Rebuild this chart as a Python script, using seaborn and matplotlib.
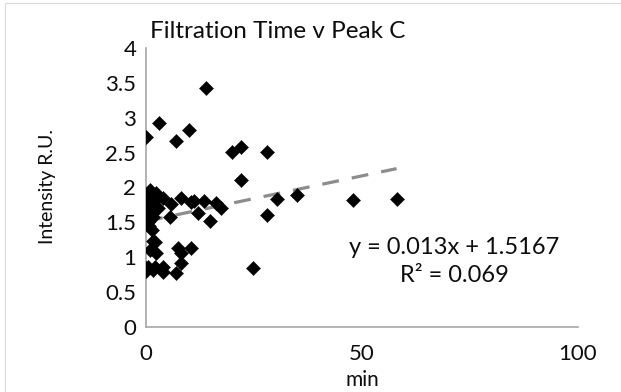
import matplotlib
matplotlib.use("Agg")
import matplotlib.pyplot as plt
import seaborn as sns
import pandas as pd
import numpy as np
from matplotlib.patches import Rectangle

# Data
minutes = [13.9, 3.0, 10.0, 0.0, 6.9, 19.9, 22.0, 28.0, 22.0, 30.3, 35.0, 48.0, 58.0, 28.0, 24.8,
           1.0, 2.3, 3.9, 0.5, 2.8, 0.0, 1.6, 5.5, 8.1, 10.4, 5.8, 11.1, 13.4, 16.2, 17.4,
           12.1, 14.8, 1.4, 0.3, 0.8, 0.2, 1.8, 0.5, 0.6, 1.2,
           1.6, 2.1, 0.9, 2.3, 7.4, 8.1, 10.4, 0.0, 0.5, 2.1, 3.9, 4.0, 8.1, 7.0, 0.0, 1.6]
intensity = [3.42, 2.93, 2.83, 2.73, 2.67, 2.51, 2.58, 2.51, 2.11, 1.83, 1.89, 1.82, 1.84, 1.61, 0.85,
             1.96, 1.92, 1.85, 1.72, 1.71, 1.56, 1.58, 1.58, 1.85, 1.79, 1.76, 1.81, 1.81, 1.78, 1.70,
             1.63, 1.52, 1.39, 1.90, 1.85, 1.65, 1.80, 1.50, 1.45, 1.62,
             1.24, 1.22, 1.10, 1.06, 1.13, 1.06, 1.13, 0.85, 0.86, 0.86, 0.86, 0.79, 0.92, 0.78, 0.80, 0.82]
slope, intercept = 0.013, 1.5167
x_ticks = [0, 50, 100]
y_ticks = [0, 0.5, 1, 1.5, 2, 2.5, 3, 3.5, 4]
y_tick_labels = ["0", "0.5", "1", "1.5", "2", "2.5", "3", "3.5", "4"]

df = pd.DataFrame({"min": minutes, "Intensity R.U.": intensity})

sns.set_style("white")
plt.rcParams['font.family'] = ['Lato', 'DejaVu Sans']

fig = plt.figure(figsize=(6.21, 3.92), dpi=100)
ax = fig.add_axes([146/621, 1 - 327/392, (578-146)/621, (327-48)/392])

# outer chart border
fig.patches.append(Rectangle((5/621, -0.05), 1.1, 1 - 3/392 + 0.05, transform=fig.transFigure,
                             fill=False, edgecolor="#d9d9d9", linewidth=0.8))

# trend line
tx = np.array([0.0, max(minutes)])
ty = slope * tx + intercept
sns.lineplot(x=tx, y=ty, ax=ax, color="#8c8c8c", linewidth=2.3, zorder=1)
ax.lines[-1].set_dashes([5.3, 4.1])

sns.scatterplot(data=df, x="min", y="Intensity R.U.", ax=ax, marker="D", s=52,
                color="black", edgecolor="black", linewidth=0.3, zorder=3)

ax.set_xlim(0, 100)
ax.set_ylim(0, 4)
ax.set_xticks(x_ticks)
ax.set_yticks(y_ticks)
ax.set_yticklabels(y_tick_labels)
ax.tick_params(axis="both", length=0, labelsize=16, colors="#0d0d0d")
ax.tick_params(axis="x", pad=12)
ax.tick_params(axis="y", pad=7)
for s in ["top", "right"]:
    ax.spines[s].set_visible(False)
for s in ["left", "bottom"]:
    ax.spines[s].set_color("#a6a6a6")
    ax.spines[s].set_linewidth(1.2)
ax.set_xlabel("")
ax.set_ylabel("")

fig.text(278/621, 1 - 31/392, "Filtration Time v Peak C", ha="center", va="center",
         fontsize=17.5, color="#0d0d0d")
fig.text(48/621, 1 - 187/392, "Intensity R.U.", rotation=90, ha="center", va="center",
         fontsize=14, color="#0d0d0d")
fig.text(362/621, 1 - 380/392, "min", ha="center", va="center", fontsize=15, color="#0d0d0d")
fig.text(454/621, 1 - 247/392, "y = 0.013x + 1.5167", ha="center", va="center",
         fontsize=17, color="#0d0d0d")
fig.text(454/621, 1 - 276/392, "R² = 0.069", ha="center", va="center",
         fontsize=17, color="#0d0d0d")

fig.savefig("out.png", dpi=100)
